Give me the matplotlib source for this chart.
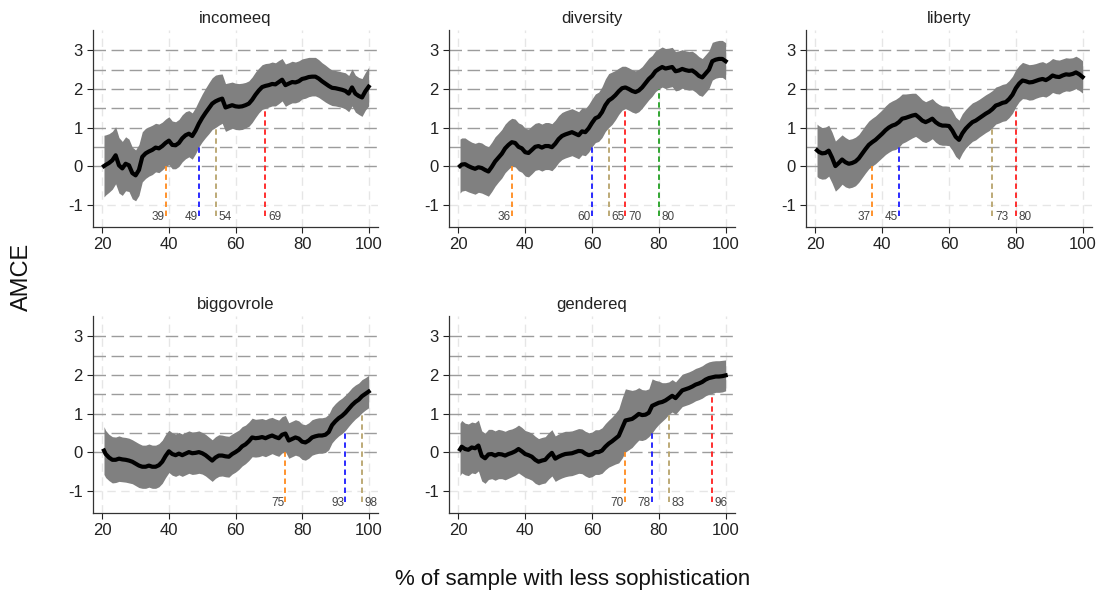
import matplotlib
matplotlib.use("Agg")
import matplotlib.pyplot as plt
import numpy as np

plt.rcParams['font.family'] = ['Liberation Sans', 'DejaVu Sans']
plt.rcParams['axes.unicode_minus'] = False

pct = [20.5] + list(range(21, 101))

incomeeq_mean = [0.00, 0.03, 0.08, 0.15, 0.28, 0.02, -0.06, 0.06, 0.02, -0.18,
                 -0.24, -0.10, 0.24, 0.33, 0.38, 0.42, 0.48, 0.46, 0.52, 0.60,
                 0.66, 0.55, 0.54, 0.60, 0.72, 0.80, 0.84, 0.78, 0.92, 1.10,
                 1.25, 1.38, 1.50, 1.62, 1.68, 1.72, 1.75, 1.52, 1.55, 1.58,
                 1.55, 1.54, 1.55, 1.58, 1.62, 1.72, 1.85, 1.96, 2.05, 2.08,
                 2.10, 2.13, 2.12, 2.18, 2.24, 2.10, 2.14, 2.18, 2.17, 2.20,
                 2.26, 2.28, 2.31, 2.32, 2.32, 2.27, 2.20, 2.14, 2.08, 2.03,
                 2.02, 2.00, 1.98, 1.95, 1.88, 2.04, 1.88, 1.82, 1.78, 1.94,
                 2.06]
incomeeq_hw = [0.80, 0.78, 0.76, 0.75, 0.74, 0.72, 0.70, 0.70, 0.68, 0.67,
               0.66, 0.66, 0.65, 0.65, 0.64, 0.64, 0.63, 0.63, 0.62, 0.62,
               0.62, 0.62, 0.61, 0.61, 0.61, 0.61, 0.60, 0.60, 0.60, 0.60,
               0.62, 0.64, 0.66, 0.67, 0.68, 0.66, 0.64, 0.62, 0.61, 0.60,
               0.60, 0.60, 0.60, 0.59, 0.59, 0.59, 0.59, 0.58, 0.58, 0.58,
               0.57, 0.57, 0.56, 0.56, 0.55, 0.55, 0.54, 0.54, 0.53, 0.53,
               0.52, 0.52, 0.51, 0.50, 0.50, 0.49, 0.48, 0.48, 0.47, 0.46,
               0.46, 0.46, 0.46, 0.47, 0.47, 0.48, 0.48, 0.48, 0.49, 0.49,
               0.50]

diversity_mean = [0.00, 0.04, 0.05, 0.00, -0.04, -0.07, -0.03, -0.05, -0.10, -0.14,
                  -0.02, 0.12, 0.22, 0.32, 0.46, 0.55, 0.62, 0.60, 0.50, 0.46,
                  0.36, 0.34, 0.42, 0.50, 0.52, 0.48, 0.52, 0.52, 0.49, 0.58,
                  0.70, 0.78, 0.82, 0.85, 0.88, 0.84, 0.80, 0.90, 0.88, 0.98,
                  1.12, 1.24, 1.28, 1.40, 1.58, 1.70, 1.76, 1.84, 1.94, 2.02,
                  2.04, 2.00, 1.95, 1.92, 1.96, 2.04, 2.15, 2.26, 2.34, 2.46,
                  2.52, 2.57, 2.53, 2.55, 2.57, 2.46, 2.48, 2.52, 2.49, 2.47,
                  2.48, 2.42, 2.34, 2.30, 2.40, 2.50, 2.72, 2.76, 2.78, 2.78,
                  2.72]
diversity_hw = [0.70, 0.69, 0.68, 0.67, 0.66, 0.66, 0.65, 0.65, 0.64, 0.64,
                0.64, 0.64, 0.63, 0.63, 0.63, 0.63, 0.62, 0.62, 0.62, 0.62,
                0.62, 0.62, 0.62, 0.61, 0.61, 0.61, 0.61, 0.61, 0.61, 0.61,
                0.61, 0.61, 0.61, 0.61, 0.61, 0.61, 0.61, 0.61, 0.61, 0.62,
                0.62, 0.63, 0.64, 0.66, 0.68, 0.70, 0.68, 0.64, 0.60, 0.57,
                0.55, 0.55, 0.55, 0.55, 0.55, 0.54, 0.54, 0.54, 0.53, 0.53,
                0.52, 0.52, 0.52, 0.51, 0.51, 0.51, 0.51, 0.50, 0.50, 0.50,
                0.50, 0.50, 0.50, 0.49, 0.49, 0.49, 0.49, 0.48, 0.48, 0.48,
                0.48]

liberty_mean = [0.41, 0.37, 0.33, 0.34, 0.40, 0.22, 0.00, 0.08, 0.17, 0.10,
                0.06, 0.08, 0.12, 0.20, 0.32, 0.44, 0.55, 0.62, 0.68, 0.76,
                0.84, 0.93, 1.00, 1.05, 1.08, 1.14, 1.23, 1.25, 1.28, 1.31,
                1.33, 1.26, 1.18, 1.14, 1.18, 1.23, 1.14, 1.08, 1.05, 1.05,
                1.04, 0.92, 0.76, 0.68, 0.85, 0.97, 1.06, 1.14, 1.18, 1.24,
                1.30, 1.36, 1.41, 1.48, 1.57, 1.60, 1.64, 1.66, 1.74, 1.85,
                2.02, 2.14, 2.22, 2.20, 2.17, 2.18, 2.21, 2.24, 2.26, 2.23,
                2.28, 2.35, 2.32, 2.31, 2.35, 2.38, 2.37, 2.39, 2.43, 2.38,
                2.31]
liberty_hw = [0.68, 0.68, 0.67, 0.67, 0.66, 0.66, 0.65, 0.65, 0.64, 0.64,
              0.63, 0.63, 0.63, 0.62, 0.62, 0.62, 0.62, 0.62, 0.62, 0.62,
              0.62, 0.63, 0.64, 0.64, 0.65, 0.65, 0.64, 0.62, 0.60, 0.58,
              0.56, 0.55, 0.54, 0.53, 0.53, 0.52, 0.52, 0.52, 0.51, 0.51,
              0.51, 0.51, 0.51, 0.51, 0.51, 0.50, 0.50, 0.50, 0.50, 0.49,
              0.49, 0.49, 0.49, 0.48, 0.48, 0.48, 0.48, 0.48, 0.48, 0.48,
              0.48, 0.47, 0.47, 0.46, 0.46, 0.46, 0.45, 0.45, 0.45, 0.44,
              0.44, 0.44, 0.44, 0.44, 0.43, 0.43, 0.43, 0.42, 0.42, 0.42,
              0.42]

biggovrole_mean = [0.04, -0.05, -0.14, -0.20, -0.20, -0.17, -0.19, -0.20, -0.22, -0.25,
                   -0.30, -0.35, -0.38, -0.38, -0.35, -0.38, -0.38, -0.34, -0.25, -0.10,
                   0.02, -0.05, -0.08, -0.04, -0.08, -0.04, 0.00, -0.03, -0.02, 0.00,
                   -0.03, -0.08, -0.15, -0.22, -0.14, -0.09, -0.09, -0.11, -0.12, -0.05,
                   0.00, 0.06, 0.15, 0.20, 0.28, 0.38, 0.36, 0.37, 0.39, 0.36,
                   0.40, 0.43, 0.39, 0.36, 0.45, 0.48, 0.30, 0.34, 0.38, 0.35,
                   0.27, 0.25, 0.30, 0.38, 0.41, 0.43, 0.43, 0.45, 0.52, 0.70,
                   0.80, 0.88, 0.94, 1.02, 1.12, 1.22, 1.30, 1.36, 1.45, 1.51,
                   1.57]
biggovrole_hw = [0.62, 0.61, 0.60, 0.60, 0.59, 0.59, 0.58, 0.58, 0.58, 0.57,
                 0.57, 0.57, 0.56, 0.56, 0.56, 0.56, 0.56, 0.56, 0.56, 0.56,
                 0.55, 0.55, 0.55, 0.55, 0.55, 0.55, 0.55, 0.55, 0.55, 0.55,
                 0.54, 0.54, 0.54, 0.54, 0.54, 0.54, 0.53, 0.53, 0.53, 0.52,
                 0.52, 0.51, 0.51, 0.50, 0.50, 0.50, 0.49, 0.49, 0.48, 0.48,
                 0.48, 0.47, 0.47, 0.47, 0.47, 0.47, 0.46, 0.46, 0.46, 0.46,
                 0.46, 0.46, 0.46, 0.46, 0.46, 0.46, 0.46, 0.46, 0.46, 0.46,
                 0.46, 0.46, 0.46, 0.46, 0.45, 0.45, 0.44, 0.43, 0.43, 0.42,
                 0.42]

gendereq_mean = [0.07, 0.14, 0.08, 0.06, 0.12, 0.10, 0.17, -0.10, -0.16, -0.06,
                 -0.05, -0.09, -0.05, -0.06, -0.09, -0.05, -0.02, 0.02, 0.08, 0.02,
                 -0.05, -0.08, -0.12, -0.20, -0.25, -0.22, -0.20, -0.10, -0.02, -0.17,
                 -0.12, -0.08, -0.05, -0.04, -0.03, 0.00, 0.03, 0.02, -0.04, -0.08,
                 -0.06, 0.00, 0.00, 0.04, 0.14, 0.22, 0.28, 0.35, 0.42, 0.62,
                 0.82, 0.84, 0.86, 0.92, 0.99, 0.96, 0.97, 1.02, 1.20, 1.24,
                 1.28, 1.30, 1.34, 1.40, 1.46, 1.40, 1.50, 1.60, 1.63, 1.66,
                 1.70, 1.75, 1.78, 1.82, 1.88, 1.92, 1.94, 1.96, 1.96, 1.97,
                 1.99]
gendereq_hw = [0.68, 0.68, 0.67, 0.67, 0.66, 0.66, 0.66, 0.65, 0.65, 0.65,
               0.64, 0.64, 0.64, 0.63, 0.63, 0.63, 0.62, 0.62, 0.62, 0.62,
               0.61, 0.61, 0.61, 0.61, 0.60, 0.60, 0.60, 0.60, 0.60, 0.59,
               0.59, 0.59, 0.59, 0.58, 0.58, 0.58, 0.58, 0.58, 0.58, 0.58,
               0.58, 0.58, 0.58, 0.59, 0.60, 0.61, 0.63, 0.66, 0.70, 0.78,
               0.82, 0.78, 0.74, 0.70, 0.68, 0.66, 0.64, 0.62, 0.70, 0.62,
               0.56, 0.50, 0.46, 0.42, 0.42, 0.42, 0.42, 0.42, 0.42, 0.42,
               0.42, 0.42, 0.42, 0.42, 0.42, 0.42, 0.42, 0.41, 0.41, 0.41,
               0.40]

titles = ["incomeeq", "diversity", "liberty", "biggovrole", "gendereq"]
means = [incomeeq_mean, diversity_mean, liberty_mean, biggovrole_mean, gendereq_mean]
hws = [incomeeq_hw, diversity_hw, liberty_hw, biggovrole_hw, gendereq_hw]

# threshold crossing markers: (percentage, threshold)
incomeeq_marks = [(39, 0.0), (49, 0.5), (54, 1.0), (69, 1.5)]
diversity_marks = [(36, 0.0), (60, 0.5), (65, 1.0), (70, 1.5), (80, 2.0)]
liberty_marks = [(37, 0.0), (45, 0.5), (73, 1.0), (80, 1.5)]
biggovrole_marks = [(75, 0.0), (93, 0.5), (98, 1.0)]
gendereq_marks = [(70, 0.0), (78, 0.5), (83, 1.0), (96, 1.5)]
marks = [incomeeq_marks, diversity_marks, liberty_marks, biggovrole_marks, gendereq_marks]

thr_colors = {0.0: "#ff8a1c", 0.5: "#1a1aff", 1.0: "#b8a46c", 1.5: "#ff1f1f", 2.0: "#22a022"}

x_ticks = [20, 40, 60, 80, 100]
y_ticks = [-1, 0, 1, 2, 3]
ref_lines = [0, 0.5, 1, 1.5, 2, 2.5, 3]

W, H = 1101, 599
fig = plt.figure(figsize=(W / 100, H / 100), dpi=100)

# axes boxes in pixels: (left, top, right, bottom)
boxes = [(93, 30, 378, 227), (449, 30, 735, 227), (806, 30, 1092, 227),
         (93, 316, 378, 513), (449, 316, 735, 513)]

for i, (l, t, r, b) in enumerate(boxes):
    ax = fig.add_axes([l / W, 1 - b / H, (r - l) / W, (b - t) / H])
    ax.set_xlim(17.2, 102.8)
    ax.set_ylim(-1.58, 3.53)
    m = np.array(means[i])
    hw = np.array(hws[i])
    # light grid
    for xv in x_ticks:
        ax.axvline(xv, color="#e6e6e6", lw=1.0, ls=(0, (6, 4)), zorder=0)
    ax.axhline(-1, color="#e6e6e6", lw=1.0, ls=(0, (6, 4)), zorder=0)
    for yv in ref_lines:
        ax.axhline(yv, color="#9c9c9c", lw=1.0, ls=(0, (9, 4)), zorder=1)
    ax.fill_between(pct, m - hw, m + hw, color="#808080", lw=0, zorder=2)
    ax.plot(pct, m, color="black", lw=3.0, zorder=3)
    for xv, thr in marks[i]:
        c = thr_colors[thr]
        ax.plot([xv, xv], [-1.3, thr], color=c, lw=1.3, ls=(0, (3, 2)), zorder=4)
        if thr in (0.0, 0.5):
            ax.text(xv - 0.4, -1.33, str(xv), ha="right", va="center",
                    fontsize=8.5, color="#444444", zorder=5)
        else:
            ax.text(xv + 0.8, -1.33, str(xv), ha="left", va="center",
                    fontsize=8.5, color="#444444", zorder=5)
    ax.set_xticks(x_ticks)
    ax.set_yticks(y_ticks)
    ax.set_xticklabels([str(v) for v in x_ticks])
    ax.set_yticklabels([str(v) for v in y_ticks])
    ax.tick_params(labelsize=12, colors="#222222", length=4, width=0.8)
    for s in ["top", "right"]:
        ax.spines[s].set_visible(False)
    for s in ["left", "bottom"]:
        ax.spines[s].set_color("#333333")
        ax.spines[s].set_linewidth(0.9)
    ax.set_title(titles[i], fontsize=12, color="#222222", pad=5)

fig.text(22 / W, 1 - 277 / H, "AMCE", rotation=90, ha="center", va="center",
         fontsize=17, color="#111111")
fig.text(573 / W, 1 - 580 / H, "% of sample with less sophistication", ha="center",
         va="center", fontsize=16, color="#111111")

fig.savefig("out.png", dpi=100)
